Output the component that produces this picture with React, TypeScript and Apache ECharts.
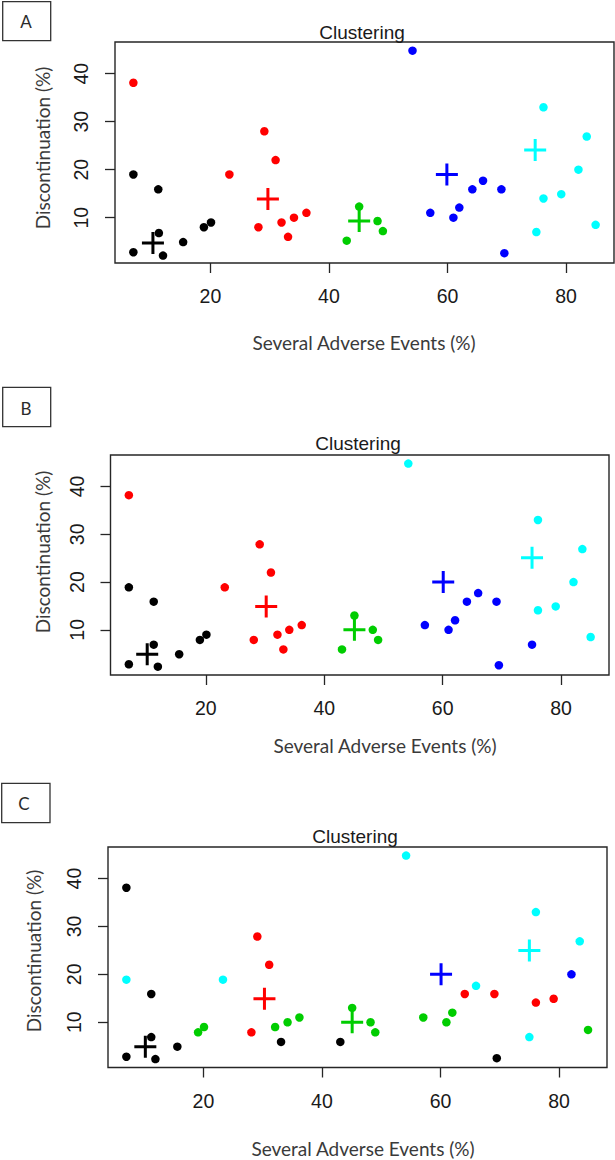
import React, { useEffect, useRef } from "react";
import * as echarts from "echarts";

// ---------- data ----------
const xTicks = [20, 40, 60, 80];
const yTicks = [10, 20, 30, 40];
const xRange = [3.9, 88.1];
const yRange = [0.55, 46.6];

const clusterColors = ["#000000", "#FF0000", "#00CD00", "#0000FF", "#00FFFF"];
const clusterNames = ["Cluster 1", "Cluster 2", "Cluster 3", "Cluster 4", "Cluster 5"];

// Panel A
const aBlack = [[7.0, 2.8], [7.0, 19.0], [11.2, 15.9], [11.3, 6.8], [12.0, 2.1], [15.4, 4.9], [18.9, 8.0], [20.1, 9.0]];
const aRed = [[7.0, 38.1], [23.2, 19.0], [29.1, 28.0], [31.0, 22.0], [28.1, 8.0], [32.0, 9.0], [34.1, 10.0], [33.1, 6.0], [36.2, 11.0]];
const aGreen = [[43.0, 5.2], [45.1, 12.3], [48.2, 9.3], [49.1, 7.2]];
const aBlue = [[54.1, 44.8], [57.1, 11.0], [61.0, 10.0], [62.0, 12.1], [64.2, 15.9], [66.0, 17.7], [69.1, 15.9], [69.6, 2.6]];
const aCyan = [[76.2, 33.0], [83.5, 26.9], [82.1, 20.0], [79.2, 14.9], [76.2, 14.0], [75.0, 7.0], [85.0, 8.5]];
const aCenters = [[10.3, 4.7], [29.7, 13.9], [45.1, 9.3], [59.9, 19.0], [74.8, 24.1]];

// Panel B
const bBlack = [[7.0, 2.8], [7.0, 18.9], [11.2, 15.9], [11.2, 6.9], [11.9, 2.3], [15.5, 4.9], [19.0, 7.9], [20.1, 9.0]];
const bRed = [[7.0, 38.2], [23.2, 18.9], [29.1, 27.9], [31.0, 22.0], [28.1, 7.9], [32.1, 9.0], [34.1, 10.0], [33.1, 5.9], [36.2, 11.0]];
const bGreen = [[43.0, 5.9], [45.1, 13.0], [48.2, 10.0], [49.1, 7.9]];
const bBlue = [[57.0, 11.0], [61.0, 10.0], [62.1, 12.0], [64.1, 15.9], [66.0, 17.7], [69.1, 15.9], [69.5, 2.6], [75.1, 6.9]];
const bCyan = [[54.2, 44.8], [76.1, 33.0], [83.6, 26.9], [82.1, 20.0], [79.1, 14.9], [76.1, 14.1], [85.0, 8.5]];
const bCenters = [[10.1, 4.9], [30.2, 14.9], [45.1, 10.0], [60.1, 20.0], [75.1, 25.1]];

// Panel C
const cBlack = [[7.0, 38.1], [11.2, 15.9], [11.2, 6.9], [7.0, 2.8], [11.9, 2.3], [15.6, 4.9], [33.1, 5.9], [43.1, 5.9], [69.5, 2.5]];
const cRed = [[29.1, 27.9], [31.1, 22.0], [28.1, 7.9], [64.1, 15.9], [69.1, 15.9], [76.1, 14.1], [79.1, 14.9]];
const cGreen = [[19.1, 7.9], [20.1, 9.0], [32.1, 9.0], [34.2, 10.0], [36.2, 11.0], [45.1, 13.0], [48.2, 10.0], [49.0, 7.9], [57.1, 11.0], [61.0, 10.0], [62.0, 12.0], [84.9, 8.4]];
const cBlue = [[82.1, 20.0]];
const cCyan = [[7.0, 18.9], [23.3, 18.9], [54.2, 44.8], [66.0, 17.6], [76.1, 33.0], [83.5, 26.9], [75.0, 6.9]];
const cCenters = [[10.2, 4.9], [30.3, 14.9], [45.1, 10.0], [60.1, 20.0], [75.0, 25.0]];

const panelLabels = ["A", "B", "C"];
const titleText = "Clustering";
const xTitle = "Several Adverse Events (%)";
const yTitle = "Discontinuation (%)";

// ---------- layout ----------
const panels = [
  {
    clusters: [aBlack, aRed, aGreen, aBlue, aCyan], centers: aCenters,
    grid: { left: 115, top: 42, width: 499, height: 221 },
    box: [2.7, 1.7, 48, 39], letter: [26, 21],
    title: [362, 32], xt: [364, 342], yt: [42, 148],
  },
  {
    clusters: [bBlack, bRed, bGreen, bBlue, bCyan], centers: bCenters,
    grid: { left: 110.5, top: 455, width: 498.5, height: 220 },
    box: [2.7, 387.3, 48, 39.4], letter: [26, 408],
    title: [358, 443], xt: [385, 745], yt: [42, 552],
  },
  {
    clusters: [cBlack, cRed, cGreen, cBlue, cCyan], centers: cCenters,
    grid: { left: 108, top: 847, width: 499, height: 220.5 },
    box: [1.7, 783.3, 48.3, 39.4], letter: [24, 803],
    title: [355, 836], xt: [363, 1148], yt: [33, 951],
  },
];

const crossPath = "path://M9.5,0H12.5V9.5H22V12.5H12.5V22H9.5V12.5H0V9.5H9.5Z";
const tickFont = "Liberation Sans";
const titleFont = "Lato";

function buildOption() {
  const grids: any[] = [];
  const xAxes: any[] = [];
  const yAxes: any[] = [];
  const series: any[] = [];
  const graphic: any[] = [];

  panels.forEach((p, i) => {
    grids.push({ ...p.grid, show: true, borderColor: "#262626", borderWidth: 1.4, backgroundColor: "transparent" });
    xAxes.push({
      gridIndex: i, type: "value", min: xRange[0], max: xRange[1],
      axisLine: { show: false, onZero: false },
      axisTick: { show: true, inside: false, length: 10, customValues: xTicks, lineStyle: { color: "#262626", width: 1.3 } },
      axisLabel: { show: true, customValues: xTicks, margin: 23, fontSize: 19.5, fontFamily: tickFont, color: "#1a1a1a" },
      splitLine: { show: false },
    });
    yAxes.push({
      gridIndex: i, type: "value", min: yRange[0], max: yRange[1],
      axisLine: { show: false, onZero: false },
      axisTick: { show: true, inside: false, length: 10, customValues: yTicks, lineStyle: { color: "#262626", width: 1.3 } },
      axisLabel: { show: true, customValues: yTicks, rotate: 90, margin: 24, fontSize: 19.5, fontFamily: tickFont, color: "#1a1a1a" },
      splitLine: { show: false },
    });
    p.clusters.forEach((pts, k) => {
      series.push({
        type: "scatter", name: clusterNames[k], xAxisIndex: i, yAxisIndex: i,
        data: pts, symbol: "circle", symbolSize: 8.5,
        itemStyle: { color: clusterColors[k], opacity: 1 },
        emphasis: { disabled: true },
      });
    });
    p.centers.forEach((c, k) => {
      series.push({
        type: "scatter", name: clusterNames[k] + " centre", xAxisIndex: i, yAxisIndex: i,
        data: [c], symbol: crossPath, symbolSize: 22,
        itemStyle: { color: clusterColors[k], opacity: 1 },
        emphasis: { disabled: true },
      });
    });

    graphic.push({
      type: "rect", shape: { x: p.box[0], y: p.box[1], width: p.box[2], height: p.box[3] },
      style: { fill: "none", stroke: "#333", lineWidth: 1.3 },
    });
    const txt = (x: number, y: number, text: string, size: number, font: string, color: string, rot = 0) => ({
      type: "text", x, y, rotation: rot,
      style: { text, fontSize: size, fontFamily: font, fill: color, align: "center", verticalAlign: "middle", textAlign: "center", textVerticalAlign: "middle" },
    });
    graphic.push(txt(p.letter[0], p.letter[1], panelLabels[i], 17, titleFont, "#2b2b2b"));
    graphic.push(txt(p.title[0], p.title[1], titleText, 19, tickFont, "#1a1a1a"));
    graphic.push(txt(p.xt[0], p.xt[1], xTitle, 19, titleFont, "#3a3a3a"));
    graphic.push(txt(p.yt[0], p.yt[1], yTitle, 19, titleFont, "#3a3a3a", Math.PI / 2));
  });

  return {
    animation: false,
    backgroundColor: "#ffffff",
    grid: grids,
    xAxis: xAxes,
    yAxis: yAxes,
    series,
    graphic,
  };
}

export default function App() {
  const ref = useRef<HTMLDivElement>(null);
  useEffect(() => {
    const chart = echarts.init(ref.current!, null, { renderer: "svg" });
    chart.setOption(buildOption() as any);
    return () => chart.dispose();
  }, []);
  return (
    <div
      ref={ref}
      style={{ position: "absolute", left: 0, top: 0, width: 615, height: 1160, background: "#ffffff" }}
    />
  );
}
